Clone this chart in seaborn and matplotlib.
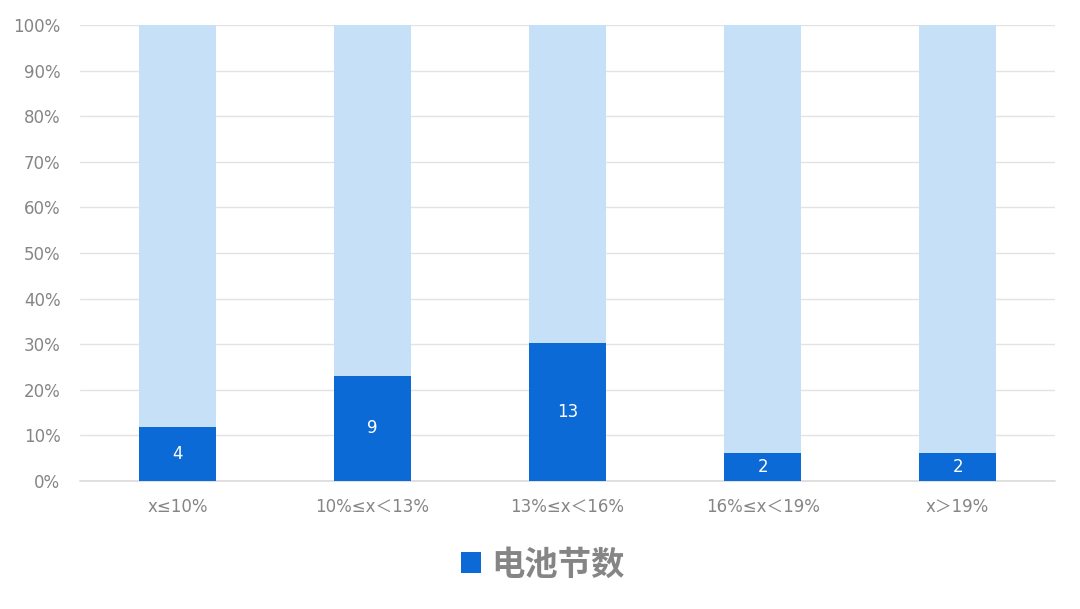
import pandas as pd
import matplotlib.pyplot as plt
import seaborn as sns

# chart data
categories = ["x≤10%", "10%≤x＜13%", "13%≤x＜16%", "16%≤x＜19%", "x＞19%"]
battery_counts = [4, 9, 13, 2, 2]
other_counts = [30, 30, 30, 31, 31]
legend_label = "电池节数"

df = pd.DataFrame({"category": categories, "count": battery_counts, "other": other_counts})
df["total"] = df["count"] + df["other"]
df["share"] = df["count"] / df["total"]
df["full"] = df["total"] / df["total"]

sns.set_theme(style="white")
plt.rcParams["font.family"] = ["DejaVu Sans", "Noto Sans CJK SC"]

dark = "#0B6AD6"
light = "#C6E0F7"
gray = "#858585"

fig = plt.figure(figsize=(10.8, 6.09), dpi=100)
ax = fig.add_axes([0.074, 0.21, 0.903, 0.749])

sns.barplot(data=df, x="category", y="full", color=light, width=0.395,
            saturation=1, linewidth=0, ax=ax, zorder=2)
sns.barplot(data=df, x="category", y="share", color=dark, width=0.395,
            saturation=1, linewidth=0, ax=ax, zorder=3)

# value labels in the dark segments
for i, (c, s) in enumerate(zip(df["count"], df["share"])):
    ax.text(i, s / 2, str(c), ha="center", va="center", color="white",
            fontsize=12, zorder=4)

ax.set_ylim(0, 1)
ax.set_xlim(-0.5, len(categories) - 0.5)
ax.set_yticks([i / 10 for i in range(11)])
ax.set_yticklabels([f"{i * 10}%" for i in range(11)])
ax.yaxis.grid(True, color="#E3E3E3", linewidth=1, zorder=0)
ax.axhline(0, color="#DADADA", linewidth=1.2, zorder=1, clip_on=False)
ax.set_axisbelow(True)
for s in ax.spines.values():
    s.set_visible(False)
ax.tick_params(axis="both", length=0, labelsize=12, labelcolor=gray)
ax.tick_params(axis="x", pad=12)
ax.tick_params(axis="y", pad=14)
ax.set_xlabel("")
ax.set_ylabel("")

leg = fig.legend(handles=[ax.containers[-1]], labels=[legend_label],
                 loc="center", bbox_to_anchor=(0.503, 0.072), frameon=False,
                 prop={"family": ["Noto Sans CJK SC", "DejaVu Sans"], "size": 24, "weight": "bold"},
                 handlelength=0.6, handleheight=0.6, handletextpad=0.3)
for t in leg.get_texts():
    t.set_color(gray)

fig.savefig("out.png", dpi=100)
